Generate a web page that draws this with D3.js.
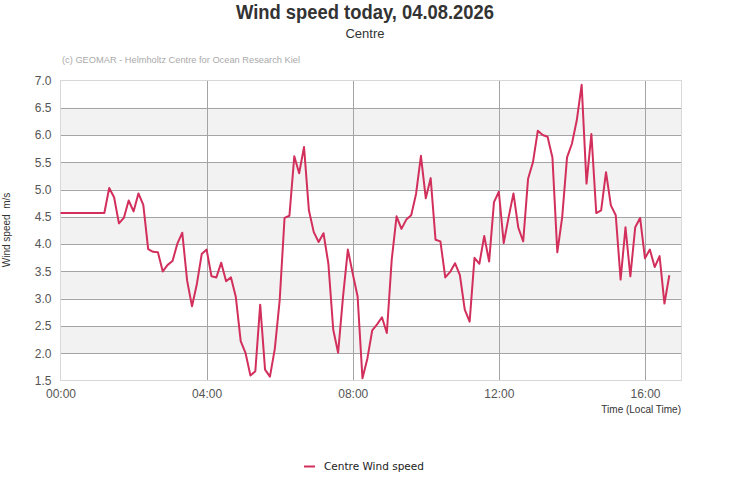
<!DOCTYPE html>
<html><head><meta charset="utf-8">
<script src="https://cdn.jsdelivr.net/npm/d3@7"></script>
<style>body{margin:0;background:#fff;}svg{display:block;font-family:"Liberation Sans",Arial,sans-serif;}</style>
</head><body>
<svg id="c" width="731" height="500"></svg>
<script>
const titleText = "Wind speed today, 04.08.2026";
const subtitleText = "Centre";
const creditText = "(c) GEOMAR - Helmholtz Centre for Ocean Research Kiel";
const seriesName = "Centre Wind speed";
const yTicks = [1.5, 2.0, 2.5, 3.0, 3.5, 4.0, 4.5, 5.0, 5.5, 6.0, 6.5, 7.0];
const xTickHours = [0, 4, 8, 12, 16];
// minutes after midnight
const minutes = [0,72,80,88,96,104,112,120,128,136,144,152,160,168,176,184,192,200,208,216,224,232,240,248,256,264,272,280,288,296,304,312,320,328,336,344,352,360,368,376,384,392,400,408,416,424,432,440,448,456,464,472,480,488,496,504,512,520,528,536,544,552,560,568,576,584,592,600,608,616,624,632,640,648,656,664,672,680,688,696,704,712,720,728,736,744,752,760,768,776,784,792,800,808,816,824,832,840,848,856,864,872,880,888,896,904,912,920,928,936,944,952,960,968,976,984,992,1000];
const speeds = [4.57,4.57,5.03,4.86,4.38,4.48,4.80,4.60,4.93,4.72,3.91,3.86,3.85,3.50,3.62,3.69,4.01,4.21,3.33,2.86,3.27,3.82,3.90,3.41,3.39,3.66,3.32,3.39,3.03,2.22,2.00,1.59,1.67,2.89,1.70,1.57,2.08,2.97,4.48,4.52,5.61,5.30,5.78,4.62,4.22,4.04,4.20,3.64,2.43,2.01,3.03,3.90,3.46,3.04,1.54,1.90,2.42,2.53,2.66,2.37,3.71,4.51,4.28,4.45,4.53,4.92,5.62,4.84,5.21,4.08,4.05,3.39,3.49,3.65,3.43,2.80,2.58,3.75,3.64,4.15,3.68,4.77,4.96,4.02,4.49,4.93,4.30,4.05,5.20,5.50,6.08,6.00,5.97,5.59,3.85,4.49,5.59,5.84,6.27,6.92,5.11,6.02,4.57,4.62,5.32,4.71,4.53,3.35,4.31,3.41,4.31,4.48,3.74,3.90,3.58,3.78,2.91,3.43];

const svg = d3.select("#c");
const L = 60.5, R = 681.5, T = 80.5, B = 380.5;
const x = d3.scaleLinear().domain([0, 17*60]).range([L, R]);
const y = d3.scaleLinear().domain([1.5, 7.0]).range([B, T]);
const data = minutes.map((m, i) => ({m, v: speeds[i]}));

// alternating bands
for (let i = 0; i < yTicks.length - 1; i++) {
  if (i % 2 === 1) {
    svg.append("rect").attr("x", L).attr("width", R - L)
      .attr("y", y(yTicks[i+1])).attr("height", y(yTicks[i]) - y(yTicks[i+1]))
      .attr("fill", "#f2f2f2");
  }
}
// horizontal grid
svg.append("g").selectAll("line").data(yTicks.slice(1, -1)).join("line")
  .attr("x1", L).attr("x2", R)
  .attr("y1", d => Math.round(y(d)) + 0.5).attr("y2", d => Math.round(y(d)) + 0.5)
  .attr("stroke", "#a4a4a4").attr("stroke-width", 1);
// vertical grid
svg.append("g").selectAll("line").data(xTickHours.slice(1)).join("line")
  .attr("x1", d => Math.round(x(d*60)) + 0.5).attr("x2", d => Math.round(x(d*60)) + 0.5)
  .attr("y1", T).attr("y2", B)
  .attr("stroke", "#a4a4a4").attr("stroke-width", 1);
// plot border
svg.append("rect").attr("x", L).attr("y", T).attr("width", R - L).attr("height", B - T)
  .attr("fill", "none").attr("stroke", "#d8d8d8").attr("stroke-width", 1);

// y axis
const yAxis = d3.axisLeft(y).tickValues(yTicks).tickFormat(d3.format(".1f")).tickSize(0).tickPadding(9);
const gy = svg.append("g").attr("transform", `translate(${L},0)`).call(yAxis);
gy.select(".domain").remove();
gy.selectAll("text").attr("font-size", 12).attr("fill", "#555").attr("font-family", "Liberation Sans, Arial, sans-serif");

// x axis
const xAxis = d3.axisBottom(x).tickValues(xTickHours.map(h => h*60))
  .tickFormat(m => String(m/60).padStart(2, "0") + ":00").tickSize(0).tickPadding(9);
const gx = svg.append("g").attr("transform", `translate(0,${B})`).call(xAxis);
gx.select(".domain").remove();
gx.selectAll("text").attr("font-size", 12).attr("fill", "#555").attr("font-family", "Liberation Sans, Arial, sans-serif");

// line
svg.append("path").datum(data)
  .attr("d", d3.line().x(d => x(d.m)).y(d => y(d.v)))
  .attr("fill", "none").attr("stroke", "#d22f5c").attr("stroke-width", 2).attr("stroke-linejoin", "round");

// titles
svg.append("text").attr("x", 365).attr("y", 19).attr("text-anchor", "middle")
  .attr("font-size", 20).attr("font-weight", "bold").attr("fill", "#333")
  .attr("textLength", 258).attr("lengthAdjust", "spacingAndGlyphs").text(titleText);
svg.append("text").attr("x", 365).attr("y", 38).attr("text-anchor", "middle")
  .attr("font-size", 13).attr("fill", "#333").text(subtitleText);
svg.append("text").attr("x", 62).attr("y", 63)
  .attr("font-size", 9).attr("fill", "#aaa")
  .attr("textLength", 238).attr("lengthAdjust", "spacingAndGlyphs").text(creditText);

// axis titles
svg.append("text").attr("transform", "translate(10,230) rotate(-90)").attr("text-anchor", "middle")
  .attr("font-size", 10).attr("fill", "#333").attr("xml:space", "preserve").text("Wind speed  m/s");
svg.append("text").attr("x", 681).attr("y", 413).attr("text-anchor", "end")
  .attr("font-size", 10).attr("fill", "#333").text("Time (Local Time)");

// legend
svg.append("line").attr("x1", 304).attr("x2", 315).attr("y1", 466.5).attr("y2", 466.5)
  .attr("stroke", "#d22f5c").attr("stroke-width", 2);
svg.append("text").attr("x", 324).attr("y", 470).attr("font-size", 10.5)
  .attr("font-family", "DejaVu Sans, sans-serif").attr("fill", "#222").text(seriesName);
</script>
</body></html>
